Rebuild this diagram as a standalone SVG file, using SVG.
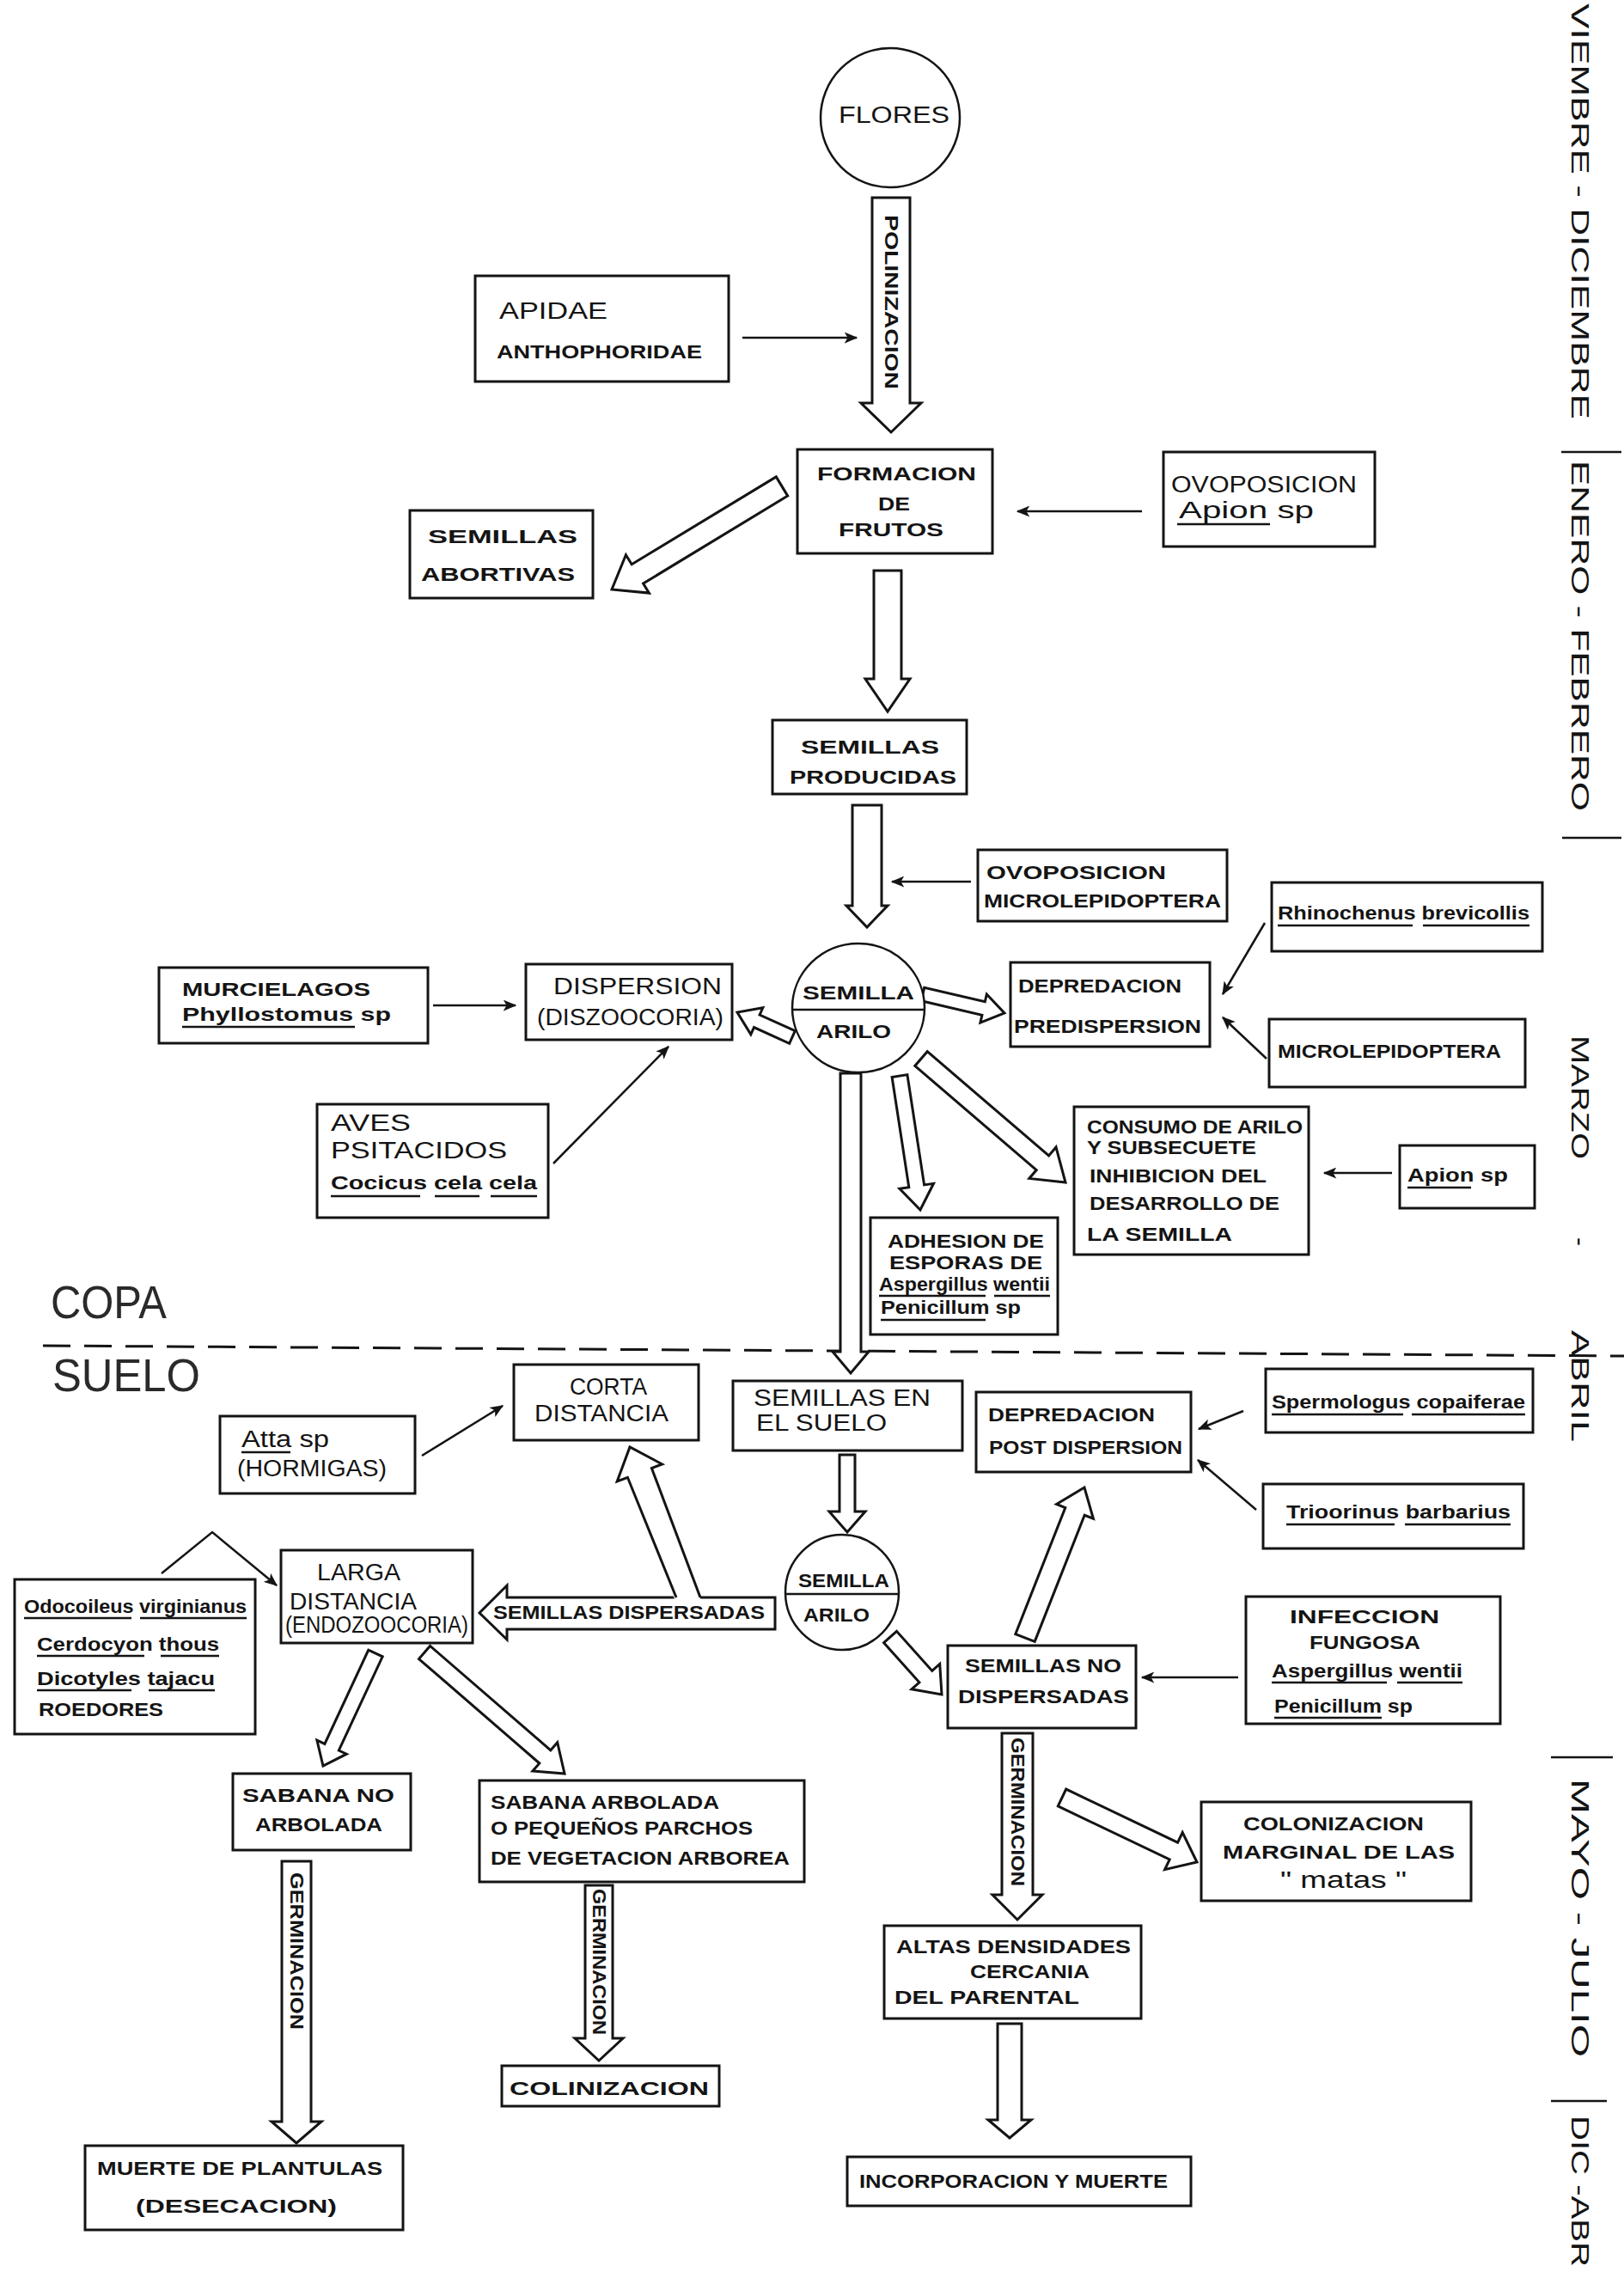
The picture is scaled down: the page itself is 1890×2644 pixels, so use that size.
<svg xmlns="http://www.w3.org/2000/svg" width="1890" height="2644" viewBox="0 0 1890 2644">
<style>
text{font-family:"Liberation Sans",Arial,sans-serif;fill:#141414}
.b{font-weight:bold;font-size:22px}
.n{font-weight:normal;font-size:27px}
.lt{font-weight:normal;font-size:54px;fill:#2a2a2a}
.mo{font-weight:normal;font-size:30px}
.box{fill:#fff;stroke:#141414;stroke-width:3}
.hol{fill:#fff;stroke:#141414;stroke-width:3;stroke-linejoin:miter}
.ln{fill:none;stroke:#141414;stroke-width:2.5}
.ul{stroke:#141414;stroke-width:2.5}
.cir{fill:#fff;stroke:#141414;stroke-width:2.5}
</style>
<defs>
<marker id="ah" viewBox="0 0 12 10" refX="11" refY="5" markerWidth="16" markerHeight="13" markerUnits="userSpaceOnUse" orient="auto"><path d="M0,0 L12,5 L0,10 L3,5 z" fill="#141414"/></marker>
</defs>
<rect width="1890" height="2644" fill="#fff"/>

<!-- months column -->
<g id="months">
<text class="mo" transform="translate(1829,4) rotate(90)" textLength="484" lengthAdjust="spacingAndGlyphs">VIEMBRE - DICIEMBRE</text>
<line class="ul" x1="1817" y1="526" x2="1887" y2="526"/>
<text class="mo" transform="translate(1829,536) rotate(90)" textLength="408" lengthAdjust="spacingAndGlyphs">ENERO - FEBRERO</text>
<line class="ul" x1="1818" y1="975" x2="1887" y2="975"/>
<text class="mo" transform="translate(1829,1205) rotate(90)" textLength="144" lengthAdjust="spacingAndGlyphs">MARZO</text>
<text class="mo" transform="translate(1829,1440) rotate(90)">-</text>
<text class="mo" transform="translate(1829,1548) rotate(90)" textLength="130" lengthAdjust="spacingAndGlyphs">ABRIL</text>
<line class="ul" x1="1805" y1="2045" x2="1877" y2="2045"/>
<text class="mo" transform="translate(1829,2070) rotate(90)" textLength="324" lengthAdjust="spacingAndGlyphs">MAYO - JULIO</text>
<line class="ul" x1="1805" y1="2445" x2="1870" y2="2445"/>
<text class="mo" transform="translate(1829,2462) rotate(90)" textLength="176" lengthAdjust="spacingAndGlyphs">DIC -ABR</text>
</g>

<!-- copa / suelo divider -->
<g id="divider">
<line x1="50" y1="1566" x2="1890" y2="1578" stroke="#141414" stroke-width="3" stroke-dasharray="32,16"/>
<text class="lt" x="59" y="1534" textLength="135" lengthAdjust="spacingAndGlyphs">COPA</text>
<text class="lt" x="61" y="1619" textLength="172" lengthAdjust="spacingAndGlyphs">SUELO</text>
</g>

<!-- connectors -->
<g id="connectors">
<polygon class="hol" points="1015,230 1059,230 1059,469 1072,469 1037,503 1002,469 1015,469"/>
<polygon class="hol" points="1017,664 1049,664 1049,790 1059,790 1033,828 1007,790 1017,790"/>
<polygon class="hol" points="903.3,554.9 735.2,656.8 728.4,645.7 712,686 755.4,690.1 748.6,679 916.7,577.1"/>
<polygon class="hol" points="992,937 1026,937 1026,1054 1033,1054 1009,1079 985,1054 992,1054"/>
<polygon class="hol" points="925.3,1199.7 884.1,1181 887.8,1172.8 858,1178 873.8,1203.8 877.5,1195.6 918.7,1214.3"/>
<polygon class="hol" points="1072.3,1164.8 1142.9,1181.4 1140.9,1190.1 1169,1179 1148.3,1157 1146.3,1165.8 1075.7,1149.2"/>
<polygon class="hol" points="978,1249 1002,1249 1002,1573 1011,1573 990,1598 969,1573 978,1573"/>
<polygon class="hol" points="1038.1,1253.4 1057.8,1381.7 1046.9,1383.3 1071,1408 1086.5,1377.3 1075.6,1378.9 1055.9,1250.6"/>
<polygon class="hol" points="1064.8,1240.4 1206.2,1361.6 1197.8,1371.4 1240,1376 1229,1335 1220.6,1344.9 1079.2,1223.7"/>
<polygon class="hol" points="977,1693 995,1693 995,1759 1007,1759 986,1783 965,1759 977,1759"/>
<polygon class="hol" points="902,1859 902,1896 590,1896 590,1908 558,1877 590,1845 590,1859"/>
<polygon points="787,1866 730.4,1719.3 718.2,1723.9 733,1684 770.6,1703.9 758.4,1708.5 815,1858 815,1864" fill="#fff"/>
<polyline class="hol" fill="none" points="787,1859 730.4,1719.3 718.2,1723.9 733,1684 770.6,1703.9 758.4,1708.5 815,1859"/>
<polygon class="hol" points="428.8,1920.2 377.9,2029.4 368.9,2025.2 376,2055 403.3,2041.2 394.3,2037 445.2,1927.8"/>
<polygon class="hol" points="487.5,1930.6 627.8,2052 619.9,2061 657,2064 648.7,2027.8 640.8,2036.8 500.5,1915.4"/>
<polygon class="hol" points="328,2166 362,2166 362,2469 374,2469 345,2494 316,2469 328,2469"/>
<polygon class="hol" points="681,2194 713,2194 713,2372 725,2372 697,2398 669,2372 681,2372"/>
<polygon class="hol" points="1028.6,1911.7 1069.9,1957.8 1060.9,1965.8 1096,1972 1093.7,1936.4 1084.8,1944.4 1043.5,1898.3"/>
<polygon class="hol" points="1204.2,1910.4 1262.2,1763.3 1272.4,1767.3 1262,1731 1229.6,1750.5 1239.8,1754.5 1181.8,1901.6"/>
<polygon class="hol" points="1166,2017 1202,2017 1202,2205 1213,2205 1184,2234 1155,2205 1166,2205"/>
<polygon class="hol" points="1231.3,2101.9 1361.2,2164 1355.6,2175.7 1393,2167 1376.2,2132.5 1370.6,2144.2 1240.7,2082.1"/>
<polygon class="hol" points="1161,2355 1189,2355 1189,2467 1200,2467 1175,2488 1150,2467 1161,2467"/>
<text class="b" font-size="21" transform="translate(1029.5,250) rotate(90)" textLength="203" lengthAdjust="spacingAndGlyphs">POLINIZACION</text>
<text class="b" font-size="21" x="574" y="1884" textLength="316" lengthAdjust="spacingAndGlyphs">SEMILLAS DISPERSADAS</text>
<text class="b" font-size="20" transform="translate(338,2179) rotate(90)" textLength="183" lengthAdjust="spacingAndGlyphs">GERMINACION</text>
<text class="b" font-size="20" transform="translate(690,2198) rotate(90)" textLength="170" lengthAdjust="spacingAndGlyphs">GERMINACION</text>
<text class="b" font-size="20" transform="translate(1177,2022) rotate(90)" textLength="173" lengthAdjust="spacingAndGlyphs">GERMINACION</text>
<line class="ln" x1="864" y1="393" x2="997" y2="393" marker-end="url(#ah)"/>
<line class="ln" x1="1329" y1="595" x2="1184" y2="595" marker-end="url(#ah)"/>
<line class="ln" x1="1130" y1="1026" x2="1038" y2="1026" marker-end="url(#ah)"/>
<line class="ln" x1="504" y1="1170" x2="600" y2="1170" marker-end="url(#ah)"/>
<line class="ln" x1="644" y1="1354" x2="778" y2="1218" marker-end="url(#ah)"/>
<line class="ln" x1="1472" y1="1074" x2="1423" y2="1157" marker-end="url(#ah)"/>
<line class="ln" x1="1474" y1="1232" x2="1423" y2="1184" marker-end="url(#ah)"/>
<line class="ln" x1="1620" y1="1365" x2="1541" y2="1365" marker-end="url(#ah)"/>
<line class="ln" x1="491" y1="1694" x2="585" y2="1636" marker-end="url(#ah)"/>
<polyline class="ln" points="188,1831 247,1783 322,1845" marker-end="url(#ah)"/>
<line class="ln" x1="1447" y1="1642" x2="1395" y2="1663" marker-end="url(#ah)"/>
<line class="ln" x1="1462" y1="1757" x2="1394" y2="1699" marker-end="url(#ah)"/>
<line class="ln" x1="1441" y1="1952" x2="1329" y2="1952" marker-end="url(#ah)"/>
</g>

<!-- nodes -->
<g id="flores">
<ellipse class="cir" cx="1036" cy="137" rx="81" ry="81"/>
<text class="n" font-size="32" x="976" y="143" textLength="129" lengthAdjust="spacingAndGlyphs">FLORES</text>
</g>
<g id="apidae">
<rect class="box" x="553" y="321" width="295" height="123"/>
<text class="n" font-size="29" x="581" y="371" textLength="126" lengthAdjust="spacingAndGlyphs">APIDAE</text>
<text class="b" font-size="28" x="578" y="417" textLength="239" lengthAdjust="spacingAndGlyphs">ANTHOPHORIDAE</text>
</g>
<g id="formacion">
<rect class="box" x="928" y="523" width="227" height="121"/>
<text class="b" font-size="26" x="951" y="559" textLength="185" lengthAdjust="spacingAndGlyphs">FORMACION</text>
<text class="b" font-size="26" x="1022" y="594" textLength="37" lengthAdjust="spacingAndGlyphs">DE</text>
<text class="b" font-size="26" x="976" y="624" textLength="122" lengthAdjust="spacingAndGlyphs">FRUTOS</text>
</g>
<g id="ovoposicion-apion">
<rect class="box" x="1354" y="526" width="246" height="110"/>
<text class="n" font-size="27" x="1363" y="573" textLength="216" lengthAdjust="spacingAndGlyphs">OVOPOSICION</text>
<text class="n" font-size="31" x="1372" y="603" textLength="157" lengthAdjust="spacingAndGlyphs">Apion sp</text>
<line class="ul" x1="1370" y1="610" x2="1478" y2="610"/>
</g>
<g id="abortivas">
<rect class="box" x="477" y="594" width="213" height="102"/>
<text class="b" font-size="27" x="498" y="632" textLength="174" lengthAdjust="spacingAndGlyphs">SEMILLAS</text>
<text class="b" font-size="27" x="490" y="676" textLength="179" lengthAdjust="spacingAndGlyphs">ABORTIVAS</text>
</g>
<g id="producidas">
<rect class="box" x="899" y="838" width="226" height="86"/>
<text class="b" font-size="26" x="932" y="877" textLength="161" lengthAdjust="spacingAndGlyphs">SEMILLAS</text>
<text class="b" font-size="26" x="919" y="912" textLength="194" lengthAdjust="spacingAndGlyphs">PRODUCIDAS</text>
</g>
<g id="ovoposicion-micro">
<rect class="box" x="1138" y="989" width="290" height="83"/>
<text class="b" font-size="29" x="1148" y="1023" textLength="209" lengthAdjust="spacingAndGlyphs">OVOPOSICION</text>
<text class="b" font-size="22" x="1145" y="1056" textLength="276" lengthAdjust="spacingAndGlyphs">MICROLEPIDOPTERA</text>
</g>
<g id="semilla-arilo-1">
<ellipse class="cir" cx="999" cy="1173" rx="77" ry="75"/>
<line class="ul" x1="922" y1="1175" x2="1076" y2="1175"/>
<text class="b" font-size="25" x="934" y="1163" textLength="130" lengthAdjust="spacingAndGlyphs">SEMILLA</text>
<text class="b" font-size="25" x="950" y="1208" textLength="87" lengthAdjust="spacingAndGlyphs">ARILO</text>
</g>
<g id="dispersion">
<rect class="box" x="612" y="1122" width="240" height="88"/>
<text class="n" font-size="27" x="644" y="1157" textLength="196" lengthAdjust="spacingAndGlyphs">DISPERSION</text>
<text class="n" font-size="25" x="625" y="1193" textLength="217" lengthAdjust="spacingAndGlyphs">(DISZOOCORIA)</text>
</g>
<g id="murcielagos">
<rect class="box" x="185" y="1126" width="313" height="88"/>
<text class="b" font-size="23" x="212" y="1159" textLength="219" lengthAdjust="spacingAndGlyphs">MURCIELAGOS</text>
<text class="b" font-size="25" x="212" y="1188" textLength="243" lengthAdjust="spacingAndGlyphs">Phyllostomus sp</text>
<line class="ul" x1="212" y1="1195" x2="413" y2="1195"/>
</g>
<g id="aves">
<rect class="box" x="369" y="1285" width="269" height="132"/>
<text class="n" font-size="28" x="385" y="1316" textLength="93" lengthAdjust="spacingAndGlyphs">AVES</text>
<text class="n" font-size="28" x="385" y="1348" textLength="205" lengthAdjust="spacingAndGlyphs">PSITACIDOS</text>
<text class="b" font-size="23" x="385" y="1384" textLength="240" lengthAdjust="spacingAndGlyphs">Cocicus cela cela</text>
<line class="ul" x1="385" y1="1392" x2="489" y2="1392"/>
<line class="ul" x1="506" y1="1392" x2="558" y2="1392"/>
<line class="ul" x1="571" y1="1392" x2="625" y2="1392"/>
</g>
<g id="depredacion-pre">
<rect class="box" x="1176" y="1120" width="232" height="98"/>
<text class="b" font-size="22" x="1185" y="1155" textLength="190" lengthAdjust="spacingAndGlyphs">DEPREDACION</text>
<text class="b" font-size="21" x="1180" y="1202" textLength="218" lengthAdjust="spacingAndGlyphs">PREDISPERSION</text>
</g>
<g id="rhinochenus">
<rect class="box" x="1480" y="1027" width="315" height="80"/>
<text class="b" font-size="22" x="1487" y="1070" textLength="293" lengthAdjust="spacingAndGlyphs">Rhinochenus brevicollis</text>
<line class="ul" x1="1487" y1="1077" x2="1644" y2="1077"/>
<line class="ul" x1="1656" y1="1077" x2="1780" y2="1077"/>
</g>
<g id="microlepidoptera">
<rect class="box" x="1477" y="1186" width="298" height="79"/>
<text class="b" font-size="22" x="1487" y="1231" textLength="260" lengthAdjust="spacingAndGlyphs">MICROLEPIDOPTERA</text>
</g>
<g id="consumo">
<rect class="box" x="1250" y="1288" width="273" height="172"/>
<text class="b" font-size="22" x="1265" y="1319" textLength="251" lengthAdjust="spacingAndGlyphs">CONSUMO DE ARILO</text>
<text class="b" font-size="22" x="1265" y="1343" textLength="197" lengthAdjust="spacingAndGlyphs">Y SUBSECUETE</text>
<text class="b" font-size="22" x="1268" y="1376" textLength="206" lengthAdjust="spacingAndGlyphs">INHIBICION DEL</text>
<text class="b" font-size="22" x="1268" y="1408" textLength="221" lengthAdjust="spacingAndGlyphs">DESARROLLO DE</text>
<text class="b" font-size="22" x="1265" y="1444" textLength="169" lengthAdjust="spacingAndGlyphs">LA SEMILLA</text>
</g>
<g id="apion-2">
<rect class="box" x="1629" y="1333" width="157" height="73"/>
<text class="b" font-size="24" x="1638" y="1375" textLength="117" lengthAdjust="spacingAndGlyphs">Apion sp</text>
<line class="ul" x1="1638" y1="1382" x2="1712" y2="1382"/>
</g>
<g id="adhesion">
<rect class="box" x="1013" y="1417" width="218" height="136"/>
<text class="b" font-size="22" x="1033" y="1452" textLength="182" lengthAdjust="spacingAndGlyphs">ADHESION DE</text>
<text class="b" font-size="22" x="1035" y="1477" textLength="178" lengthAdjust="spacingAndGlyphs">ESPORAS DE</text>
<text class="b" font-size="21" x="1023" y="1502" textLength="199" lengthAdjust="spacingAndGlyphs">Aspergillus wentii</text>
<line class="ul" x1="1023" y1="1508" x2="1147" y2="1508"/>
<line class="ul" x1="1157" y1="1508" x2="1222" y2="1508"/>
<text class="b" font-size="21" x="1025" y="1529" textLength="163" lengthAdjust="spacingAndGlyphs">Penicillum sp</text>
<line class="ul" x1="1025" y1="1536" x2="1147" y2="1536"/>
</g>
<g id="semillas-suelo">
<rect class="box" x="853" y="1607" width="267" height="81"/>
<text class="n" font-size="28" x="877" y="1636" textLength="206" lengthAdjust="spacingAndGlyphs">SEMILLAS EN</text>
<text class="n" font-size="28" x="880" y="1665" textLength="152" lengthAdjust="spacingAndGlyphs">EL SUELO</text>
</g>
<g id="corta">
<rect class="box" x="598" y="1588" width="215" height="88"/>
<text class="n" font-size="26" x="663" y="1623" textLength="90" lengthAdjust="spacingAndGlyphs">CORTA</text>
<text class="n" font-size="26" x="622" y="1654" textLength="156" lengthAdjust="spacingAndGlyphs">DISTANCIA</text>
</g>
<g id="atta">
<rect class="box" x="256" y="1648" width="227" height="90"/>
<text class="n" font-size="26" x="281" y="1684" textLength="102" lengthAdjust="spacingAndGlyphs">Atta sp</text>
<line class="ul" x1="281" y1="1690" x2="338" y2="1690"/>
<text class="n" font-size="25" x="276" y="1718" textLength="174" lengthAdjust="spacingAndGlyphs">(HORMIGAS)</text>
</g>
<g id="larga">
<rect class="box" x="327" y="1804" width="223" height="108"/>
<text class="n" font-size="24" x="369" y="1839" textLength="97" lengthAdjust="spacingAndGlyphs">LARGA</text>
<text class="n" font-size="25" x="337" y="1873" textLength="148" lengthAdjust="spacingAndGlyphs">DISTANCIA</text>
<text class="n" font-size="24" x="332" y="1900" textLength="213" lengthAdjust="spacingAndGlyphs">(ENDOZOOCORIA)</text>
</g>
<g id="odocoileus">
<rect class="box" x="17" y="1838" width="280" height="180"/>
<text class="b" font-size="20" x="28" y="1877" textLength="259" lengthAdjust="spacingAndGlyphs">Odocoileus virginianus</text>
<line class="ul" x1="28" y1="1883" x2="153" y2="1883"/>
<line class="ul" x1="163" y1="1883" x2="287" y2="1883"/>
<text class="b" font-size="21" x="43" y="1921" textLength="212" lengthAdjust="spacingAndGlyphs">Cerdocyon thous</text>
<line class="ul" x1="43" y1="1927" x2="168" y2="1927"/>
<line class="ul" x1="187" y1="1927" x2="255" y2="1927"/>
<text class="b" font-size="21" x="43" y="1961" textLength="207" lengthAdjust="spacingAndGlyphs">Dicotyles tajacu</text>
<line class="ul" x1="43" y1="1967" x2="153" y2="1967"/>
<line class="ul" x1="173" y1="1967" x2="250" y2="1967"/>
<text class="b" font-size="21" x="45" y="1997" textLength="145" lengthAdjust="spacingAndGlyphs">ROEDORES</text>
</g>
<g id="semilla-arilo-2">
<ellipse class="cir" cx="980" cy="1853" rx="66" ry="67"/>
<line class="ul" x1="914" y1="1855" x2="1046" y2="1855"/>
<text class="b" font-size="21" x="929" y="1847" textLength="106" lengthAdjust="spacingAndGlyphs">SEMILLA</text>
<text class="b" font-size="21" x="935" y="1887" textLength="77" lengthAdjust="spacingAndGlyphs">ARILO</text>
</g>
<g id="depredacion-post">
<rect class="box" x="1136" y="1620" width="250" height="93"/>
<text class="b" font-size="24" x="1150" y="1654" textLength="194" lengthAdjust="spacingAndGlyphs">DEPREDACION</text>
<text class="b" font-size="23" x="1151" y="1692" textLength="225" lengthAdjust="spacingAndGlyphs">POST DISPERSION</text>
</g>
<g id="spermologus">
<rect class="box" x="1473" y="1593" width="311" height="74"/>
<text class="b" font-size="21" x="1480" y="1639" textLength="295" lengthAdjust="spacingAndGlyphs">Spermologus copaiferae</text>
<line class="ul" x1="1480" y1="1646" x2="1633" y2="1646"/>
<line class="ul" x1="1643" y1="1646" x2="1775" y2="1646"/>
</g>
<g id="trioorinus">
<rect class="box" x="1470" y="1727" width="303" height="75"/>
<text class="b" font-size="22" x="1497" y="1767" textLength="261" lengthAdjust="spacingAndGlyphs">Trioorinus barbarius</text>
<line class="ul" x1="1497" y1="1774" x2="1623" y2="1774"/>
<line class="ul" x1="1635" y1="1774" x2="1758" y2="1774"/>
</g>
<g id="infeccion">
<rect class="box" x="1450" y="1858" width="296" height="148"/>
<text class="b" font-size="22" x="1501" y="1889" textLength="174" lengthAdjust="spacingAndGlyphs">INFECCION</text>
<text class="b" font-size="22" x="1524" y="1919" textLength="129" lengthAdjust="spacingAndGlyphs">FUNGOSA</text>
<text class="b" font-size="21" x="1480" y="1952" textLength="222" lengthAdjust="spacingAndGlyphs">Aspergillus wentii</text>
<line class="ul" x1="1480" y1="1958" x2="1614" y2="1958"/>
<line class="ul" x1="1626" y1="1958" x2="1702" y2="1958"/>
<text class="b" font-size="21" x="1483" y="1993" textLength="161" lengthAdjust="spacingAndGlyphs">Penicillum sp</text>
<line class="ul" x1="1483" y1="1999" x2="1608" y2="1999"/>
</g>
<g id="semillas-no-dispersadas">
<rect class="box" x="1103" y="1915" width="219" height="96"/>
<text class="b" font-size="20" x="1123" y="1946" textLength="182" lengthAdjust="spacingAndGlyphs">SEMILLAS NO</text>
<text class="b" font-size="20" x="1115" y="1982" textLength="199" lengthAdjust="spacingAndGlyphs">DISPERSADAS</text>
</g>
<g id="sabana-no">
<rect class="box" x="271" y="2064" width="207" height="89"/>
<text class="b" font-size="21" x="282" y="2097" textLength="177" lengthAdjust="spacingAndGlyphs">SABANA NO</text>
<text class="b" font-size="21" x="297" y="2131" textLength="148" lengthAdjust="spacingAndGlyphs">ARBOLADA</text>
</g>
<g id="sabana-arbolada">
<rect class="box" x="558" y="2072" width="378" height="118"/>
<text class="b" font-size="21" x="571" y="2105" textLength="266" lengthAdjust="spacingAndGlyphs">SABANA ARBOLADA</text>
<text class="b" font-size="21" x="571" y="2135" textLength="305" lengthAdjust="spacingAndGlyphs">O PEQUEÑOS PARCHOS</text>
<text class="b" font-size="21" x="571" y="2170" textLength="348" lengthAdjust="spacingAndGlyphs">DE VEGETACION ARBOREA</text>
</g>
<g id="muerte-plantulas">
<rect class="box" x="99" y="2497" width="370" height="98"/>
<text class="b" font-size="23" x="113" y="2531" textLength="332" lengthAdjust="spacingAndGlyphs">MUERTE DE PLANTULAS</text>
<text class="b" font-size="23" x="158" y="2575" textLength="234" lengthAdjust="spacingAndGlyphs">(DESECACION)</text>
</g>
<g id="colinizacion">
<rect class="box" x="584" y="2404" width="253" height="47"/>
<text class="b" font-size="24" x="593" y="2438" textLength="232" lengthAdjust="spacingAndGlyphs">COLINIZACION</text>
</g>
<g id="colonizacion-marginal">
<rect class="box" x="1398" y="2097" width="314" height="115"/>
<text class="b" font-size="22" x="1447" y="2130" textLength="210" lengthAdjust="spacingAndGlyphs">COLONIZACION</text>
<text class="b" font-size="22" x="1423" y="2163" textLength="270" lengthAdjust="spacingAndGlyphs">MARGINAL DE LAS</text>
<text class="n" font-size="34" x="1490" y="2197" textLength="147" lengthAdjust="spacingAndGlyphs">" matas "</text>
</g>
<g id="altas-densidades">
<rect class="box" x="1029" y="2241" width="299" height="108"/>
<text class="b" font-size="22" x="1043" y="2273" textLength="273" lengthAdjust="spacingAndGlyphs">ALTAS DENSIDADES</text>
<text class="b" font-size="22" x="1129" y="2302" textLength="139" lengthAdjust="spacingAndGlyphs">CERCANIA</text>
<text class="b" font-size="22" x="1041" y="2332" textLength="215" lengthAdjust="spacingAndGlyphs">DEL PARENTAL</text>
</g>
<g id="incorporacion">
<rect class="box" x="986" y="2510" width="400" height="57"/>
<text class="b" font-size="23" x="1000" y="2546" textLength="359" lengthAdjust="spacingAndGlyphs">INCORPORACION Y MUERTE</text>
</g>
</svg>
